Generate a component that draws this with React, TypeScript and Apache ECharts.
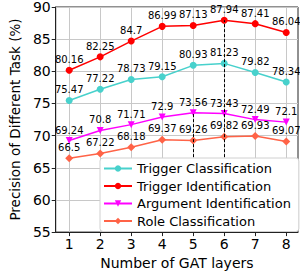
import React, { useEffect, useRef } from "react";
import * as echarts from "echarts";

const layers = [1, 2, 3, 4, 5, 6, 7, 8];
const triggerClassification = [75.47, 77.22, 78.73, 79.15, 80.93, 81.23, 79.82, 78.34];
const triggerIdentification = [80.16, 82.25, 84.7, 86.99, 87.13, 87.94, 87.41, 86.04];
const argumentIdentification = [69.24, 70.8, 71.71, 72.9, 73.56, 73.43, 72.49, 72.1];
const roleClassification = [66.5, 67.22, 68.18, 69.37, 69.26, 69.82, 69.93, 69.07];
const yTicks = [55, 60, 65, 70, 75, 80, 85, 90];

const FONT = "DejaVu Sans";

export default function App() {
  const ref = useRef<HTMLDivElement>(null);
  useEffect(() => {
    document.body.style.margin = "0";
    const chart = echarts.init(ref.current!, null, { renderer: "svg" });
    const mk = (
      name: string,
      values: number[],
      color: string,
      symbol: string,
      symbolSize: number,
      symbolRotate: number,
      markX?: number,
      markY?: number
    ) => ({
      name,
      type: "line",
      data: layers.map((x, i) => [x, values[i]]),
      symbol,
      symbolSize,
      symbolRotate,
      lineStyle: { color, width: 1.5 },
      itemStyle: { color },
      label: {
        show: true,
        position: "top",
        distance: 2,
        rotate: 0,
        fontSize: 10,
        fontFamily: FONT,
        color: "#000",
      },
      markLine:
        markX !== undefined
          ? {
              silent: true,
              symbol: "none",
              label: { show: false },
              lineStyle: { color: "#000", type: [3, 2], width: 1 },
              data: [[{ coord: [markX, yTicks[0]] }, { coord: [markX, markY] }]],
            }
          : undefined,
    });
    chart.setOption({
      animation: false,
      textStyle: { fontFamily: FONT },
      grid: {
        left: 38,
        right: 2,
        top: 5,
        bottom: 33,
        show: true,
        borderColor: "#222",
        borderWidth: 1,
        backgroundColor: "transparent",
      },
      legend: {
        orient: "vertical",
        left: 100,
        top: 158,
        itemWidth: 28,
        itemHeight: 8,
        itemGap: 4.5,
        padding: [4, 8, 4, 3],
        backgroundColor: "#fff",
        borderColor: "#d0d0d0",
        borderWidth: 1,
        borderRadius: 3,
        z: 10,
        textStyle: { fontSize: 13, fontFamily: FONT, color: "#000" },
        data: [
          "Trigger Classification",
          "Trigger Identification",
          "Argument Identification",
          "Role Classification",
        ],
      },
      xAxis: {
        type: "value",
        min: 0.565,
        max: 8.38,
        name: "Number of GAT layers",
        nameLocation: "middle",
        nameGap: 23,
        nameTextStyle: { fontSize: 14, fontFamily: FONT, color: "#000" },
        axisLine: { show: true, lineStyle: { color: "#222" } },
        axisTick: { show: true, length: 4, customValues: layers, lineStyle: { color: "#222" } },
        axisLabel: {
          customValues: layers,
          fontSize: 14,
          fontFamily: FONT,
          color: "#000",
          margin: 5,
        },
        splitLine: { show: true, lineStyle: { color: "#c8c8c8", width: 1 } },
      },
      yAxis: {
        type: "value",
        min: 55,
        max: 90,
        interval: 5,
        name: "Precision of Different Task (%)",
        nameLocation: "middle",
        nameGap: 26,
        nameTextStyle: { fontSize: 13.5, fontFamily: FONT, color: "#000" },
        axisLine: { show: true, lineStyle: { color: "#222" } },
        axisTick: { show: true, length: 4, lineStyle: { color: "#222" } },
        axisLabel: { fontSize: 14, fontFamily: FONT, color: "#000", margin: 5 },
        splitLine: { show: true, lineStyle: { color: "#c8c8c8", width: 1 } },
      },
      series: [
        mk("Trigger Classification", triggerClassification, "#48D1CC", "circle", 7, 0),
        mk("Trigger Identification", triggerIdentification, "#FF0000", "circle", 7, 0, 6, triggerIdentification[5]),
        mk("Argument Identification", argumentIdentification, "#FF00FF", "triangle", 7, 180, 5, argumentIdentification[4]),
        mk("Role Classification", roleClassification, "#FF6347", "diamond", 8, 0),
      ],
    });
    return () => chart.dispose();
  }, []);
  return <div ref={ref} style={{ width: 300, height: 275 }} />;
}
